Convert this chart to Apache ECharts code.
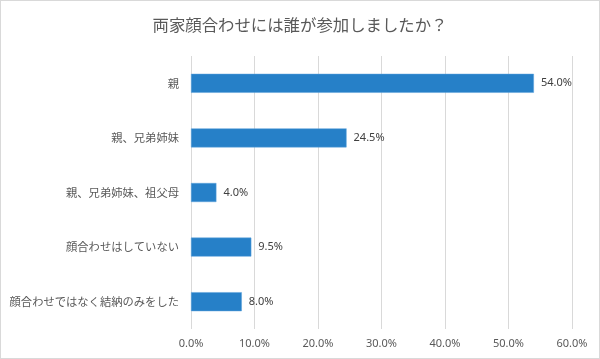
<!DOCTYPE html>
<html><head><meta charset="utf-8">
<script src="https://cdn.jsdelivr.net/npm/echarts@6/dist/echarts.min.js"></script>
<style>html,body{margin:0;padding:0;background:#fff}#c{width:598px;height:357px;border:1px solid #d9d9d9}</style>
</head><body><div id="c"></div>
<script>
const titleText = '両家顔合わせには誰が参加しましたか？';
const categories = ['親', '親、兄弟姉妹', '親、兄弟姉妹、祖父母', '顔合わせはしていない', '顔合わせではなく結納のみをした'];
const values = [54.0, 24.5, 4.0, 9.5, 8.0];
const xTicks = [0, 10, 20, 30, 40, 50, 60];

const chart = echarts.init(document.getElementById('c'));
chart.setOption({
  animation: false,
  title: { text: titleText, left: 'center', top: 11, textStyle: { fontFamily: 'Noto Sans CJK JP', fontSize: 16.4, fontWeight: 'normal', color: '#595959' } },
  grid: { left: 190, right: 27, top: 55, bottom: 29, containLabel: false },
  xAxis: {
    type: 'value', min: xTicks[0], max: xTicks[xTicks.length - 1], interval: 10,
    axisLine: { show: false }, axisTick: { show: false },
    splitLine: { lineStyle: { color: '#d9d9d9', width: 1 } },
    axisLabel: { formatter: v => v.toFixed(1) + '%', color: '#595959', fontSize: 11, fontFamily: 'Noto Sans', margin: 9 }
  },
  yAxis: {
    type: 'category', data: categories, inverse: true,
    axisLine: { show: false }, axisTick: { show: false },
    axisLabel: { color: '#595959', fontSize: 11.3, fontFamily: 'Noto Sans CJK JP', margin: 12 }
  },
  series: [{
    type: 'bar', data: values, barWidth: 19,
    itemStyle: { color: '#2680c8', borderColor: '#5fa3dc', borderWidth: 0.5 },
    label: { show: true, position: 'right', distance: 7, formatter: p => p.value.toFixed(1) + '%', color: '#404040', fontSize: 11, fontFamily: 'Noto Sans' }
  }]
});
</script></body></html>
